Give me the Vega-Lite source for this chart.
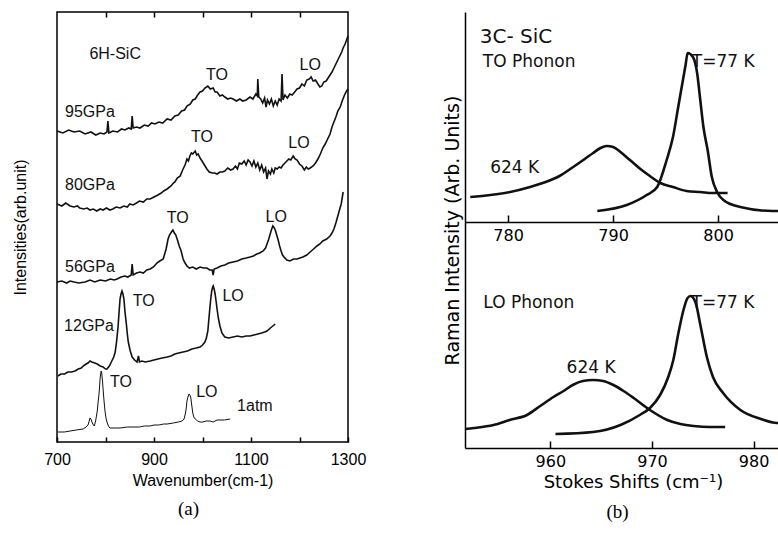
{
"$schema": "https://vega.github.io/schema/vega-lite/v6.json",
"padding": {"left": 11, "top": 10, "right": 0, "bottom": 0},
"spacing": 76,
"config": {
  "font": "Liberation Sans",
  "axis": {"domainColor": "black", "tickColor": "black", "labelColor": "black", "titleColor": "black", "grid": false, "labelFlush": false, "labelOverlap": false, "titleFontWeight": "normal"},
  "title": {"color": "black", "fontWeight": "normal"}
},
"datasets": {
  "specA": [
    {"s":"95GPa","w":700,"v":313},{"s":"95GPa","w":712,"v":311},{"s":"95GPa","w":724,"v":314},{"s":"95GPa","w":735,"v":312},{"s":"95GPa","w":747,"v":313},{"s":"95GPa","w":758,"v":310},{"s":"95GPa","w":770,"v":312},{"s":"95GPa","w":780,"v":309},{"s":"95GPa","w":789,"v":311},{"s":"95GPa","w":797,"v":310},{"s":"95GPa","w":803,"v":312},{"s":"95GPa","w":805,"v":323},{"s":"95GPa","w":807,"v":311},{"s":"95GPa","w":815,"v":313},{"s":"95GPa","w":825,"v":312},{"s":"95GPa","w":833,"v":315},{"s":"95GPa","w":840,"v":314},{"s":"95GPa","w":848,"v":316},{"s":"95GPa","w":853,"v":315},{"s":"95GPa","w":855,"v":328},{"s":"95GPa","w":857,"v":316},{"s":"95GPa","w":864,"v":317},{"s":"95GPa","w":871,"v":316},{"s":"95GPa","w":880,"v":319},{"s":"95GPa","w":888,"v":318},{"s":"95GPa","w":895,"v":321},{"s":"95GPa","w":902,"v":320},{"s":"95GPa","w":910,"v":322},{"s":"95GPa","w":918,"v":321},{"s":"95GPa","w":927,"v":325},{"s":"95GPa","w":935,"v":324},{"s":"95GPa","w":943,"v":328},{"s":"95GPa","w":950,"v":329},{"s":"95GPa","w":957,"v":333},{"s":"95GPa","w":963,"v":334},{"s":"95GPa","w":968,"v":338},{"s":"95GPa","w":975,"v":340},{"s":"95GPa","w":980,"v":344},{"s":"95GPa","w":985,"v":345},{"s":"95GPa","w":990,"v":349},{"s":"95GPa","w":995,"v":352},{"s":"95GPa","w":1000,"v":353},{"s":"95GPa","w":1005,"v":356},{"s":"95GPa","w":1011,"v":358},{"s":"95GPa","w":1016,"v":355},{"s":"95GPa","w":1022,"v":356},{"s":"95GPa","w":1026,"v":352},{"s":"95GPa","w":1030,"v":352},{"s":"95GPa","w":1036,"v":348},{"s":"95GPa","w":1041,"v":349},{"s":"95GPa","w":1046,"v":347},{"s":"95GPa","w":1052,"v":345},{"s":"95GPa","w":1058,"v":346},{"s":"95GPa","w":1063,"v":345},{"s":"95GPa","w":1070,"v":343},{"s":"95GPa","w":1077,"v":345},{"s":"95GPa","w":1083,"v":343},{"s":"95GPa","w":1090,"v":344},{"s":"95GPa","w":1098,"v":347},{"s":"95GPa","w":1104,"v":345},{"s":"95GPa","w":1110,"v":350},{"s":"95GPa","w":1113,"v":348},{"s":"95GPa","w":1114,"v":365},{"s":"95GPa","w":1116,"v":347},{"s":"95GPa","w":1120,"v":345},{"s":"95GPa","w":1124,"v":341},{"s":"95GPa","w":1128,"v":346},{"s":"95GPa","w":1131,"v":337},{"s":"95GPa","w":1134,"v":344},{"s":"95GPa","w":1138,"v":340},{"s":"95GPa","w":1142,"v":345},{"s":"95GPa","w":1146,"v":338},{"s":"95GPa","w":1150,"v":343},{"s":"95GPa","w":1154,"v":339},{"s":"95GPa","w":1158,"v":345},{"s":"95GPa","w":1162,"v":343},{"s":"95GPa","w":1164,"v":370},{"s":"95GPa","w":1166,"v":344},{"s":"95GPa","w":1170,"v":349},{"s":"95GPa","w":1175,"v":346},{"s":"95GPa","w":1180,"v":350},{"s":"95GPa","w":1185,"v":349},{"s":"95GPa","w":1190,"v":352},{"s":"95GPa","w":1195,"v":355},{"s":"95GPa","w":1200,"v":356},{"s":"95GPa","w":1205,"v":360},{"s":"95GPa","w":1210,"v":358},{"s":"95GPa","w":1215,"v":364},{"s":"95GPa","w":1220,"v":365},{"s":"95GPa","w":1224,"v":367},{"s":"95GPa","w":1228,"v":363},{"s":"95GPa","w":1233,"v":364},{"s":"95GPa","w":1238,"v":360},{"s":"95GPa","w":1242,"v":357},{"s":"95GPa","w":1246,"v":358},{"s":"95GPa","w":1250,"v":362},{"s":"95GPa","w":1255,"v":363},{"s":"95GPa","w":1259,"v":366},{"s":"95GPa","w":1263,"v":369},{"s":"95GPa","w":1267,"v":372},{"s":"95GPa","w":1271,"v":376},{"s":"95GPa","w":1275,"v":380},{"s":"95GPa","w":1279,"v":384},{"s":"95GPa","w":1283,"v":388},{"s":"95GPa","w":1287,"v":392},{"s":"95GPa","w":1290,"v":396},{"s":"95GPa","w":1294,"v":400},{"s":"95GPa","w":1297,"v":404},{"s":"95GPa","w":1300,"v":408},
    {"s":"80GPa","w":700,"v":240},{"s":"80GPa","w":710,"v":238},{"s":"80GPa","w":718,"v":241},{"s":"80GPa","w":727,"v":238},{"s":"80GPa","w":735,"v":237},{"s":"80GPa","w":742,"v":238},{"s":"80GPa","w":747,"v":236},{"s":"80GPa","w":755,"v":235},{"s":"80GPa","w":762,"v":236},{"s":"80GPa","w":768,"v":234},{"s":"80GPa","w":775,"v":235},{"s":"80GPa","w":782,"v":233},{"s":"80GPa","w":789,"v":235},{"s":"80GPa","w":795,"v":234},{"s":"80GPa","w":802,"v":236},{"s":"80GPa","w":809,"v":234},{"s":"80GPa","w":815,"v":235},{"s":"80GPa","w":822,"v":237},{"s":"80GPa","w":830,"v":236},{"s":"80GPa","w":838,"v":238},{"s":"80GPa","w":845,"v":237},{"s":"80GPa","w":850,"v":240},{"s":"80GPa","w":857,"v":239},{"s":"80GPa","w":864,"v":241},{"s":"80GPa","w":870,"v":243},{"s":"80GPa","w":878,"v":242},{"s":"80GPa","w":885,"v":245},{"s":"80GPa","w":892,"v":245},{"s":"80GPa","w":900,"v":247},{"s":"80GPa","w":908,"v":249},{"s":"80GPa","w":915,"v":251},{"s":"80GPa","w":920,"v":253},{"s":"80GPa","w":927,"v":255},{"s":"80GPa","w":935,"v":258},{"s":"80GPa","w":940,"v":261},{"s":"80GPa","w":943,"v":262},{"s":"80GPa","w":948,"v":266},{"s":"80GPa","w":954,"v":268},{"s":"80GPa","w":959,"v":274},{"s":"80GPa","w":964,"v":279},{"s":"80GPa","w":968,"v":285},{"s":"80GPa","w":971,"v":283},{"s":"80GPa","w":974,"v":288},{"s":"80GPa","w":977,"v":291},{"s":"80GPa","w":980,"v":290},{"s":"80GPa","w":985,"v":293},{"s":"80GPa","w":988,"v":289},{"s":"80GPa","w":991,"v":290},{"s":"80GPa","w":995,"v":286},{"s":"80GPa","w":999,"v":283},{"s":"80GPa","w":1004,"v":279},{"s":"80GPa","w":1009,"v":275},{"s":"80GPa","w":1014,"v":272},{"s":"80GPa","w":1020,"v":271},{"s":"80GPa","w":1025,"v":271},{"s":"80GPa","w":1030,"v":270},{"s":"80GPa","w":1036,"v":272},{"s":"80GPa","w":1041,"v":272},{"s":"80GPa","w":1046,"v":273},{"s":"80GPa","w":1052,"v":276},{"s":"80GPa","w":1058,"v":274},{"s":"80GPa","w":1063,"v":275},{"s":"80GPa","w":1068,"v":278},{"s":"80GPa","w":1072,"v":275},{"s":"80GPa","w":1076,"v":281},{"s":"80GPa","w":1081,"v":280},{"s":"80GPa","w":1086,"v":283},{"s":"80GPa","w":1090,"v":279},{"s":"80GPa","w":1094,"v":284},{"s":"80GPa","w":1098,"v":282},{"s":"80GPa","w":1102,"v":278},{"s":"80GPa","w":1106,"v":283},{"s":"80GPa","w":1110,"v":277},{"s":"80GPa","w":1114,"v":281},{"s":"80GPa","w":1118,"v":274},{"s":"80GPa","w":1122,"v":279},{"s":"80GPa","w":1126,"v":272},{"s":"80GPa","w":1130,"v":276},{"s":"80GPa","w":1133,"v":265},{"s":"80GPa","w":1136,"v":273},{"s":"80GPa","w":1140,"v":270},{"s":"80GPa","w":1143,"v":275},{"s":"80GPa","w":1147,"v":271},{"s":"80GPa","w":1150,"v":276},{"s":"80GPa","w":1154,"v":275},{"s":"80GPa","w":1158,"v":277},{"s":"80GPa","w":1162,"v":276},{"s":"80GPa","w":1166,"v":279},{"s":"80GPa","w":1170,"v":281},{"s":"80GPa","w":1174,"v":283},{"s":"80GPa","w":1178,"v":285},{"s":"80GPa","w":1182,"v":284},{"s":"80GPa","w":1187,"v":288},{"s":"80GPa","w":1191,"v":285},{"s":"80GPa","w":1195,"v":284},{"s":"80GPa","w":1200,"v":280},{"s":"80GPa","w":1205,"v":278},{"s":"80GPa","w":1210,"v":274},{"s":"80GPa","w":1214,"v":277},{"s":"80GPa","w":1218,"v":275},{"s":"80GPa","w":1222,"v":276},{"s":"80GPa","w":1228,"v":278},{"s":"80GPa","w":1233,"v":281},{"s":"80GPa","w":1238,"v":285},{"s":"80GPa","w":1243,"v":290},{"s":"80GPa","w":1248,"v":296},{"s":"80GPa","w":1253,"v":300},{"s":"80GPa","w":1258,"v":305},{"s":"80GPa","w":1263,"v":310},{"s":"80GPa","w":1267,"v":317},{"s":"80GPa","w":1271,"v":322},{"s":"80GPa","w":1275,"v":327},{"s":"80GPa","w":1279,"v":333},{"s":"80GPa","w":1284,"v":337},{"s":"80GPa","w":1288,"v":343},{"s":"80GPa","w":1292,"v":348},{"s":"80GPa","w":1296,"v":352},{"s":"80GPa","w":1300,"v":355},
    {"s":"56GPa","w":700,"v":162},{"s":"56GPa","w":710,"v":163},{"s":"56GPa","w":720,"v":161},{"s":"56GPa","w":727,"v":163},{"s":"56GPa","w":735,"v":162},{"s":"56GPa","w":745,"v":161},{"s":"56GPa","w":758,"v":162},{"s":"56GPa","w":768,"v":164},{"s":"56GPa","w":778,"v":162},{"s":"56GPa","w":789,"v":164},{"s":"56GPa","w":800,"v":163},{"s":"56GPa","w":810,"v":165},{"s":"56GPa","w":818,"v":164},{"s":"56GPa","w":824,"v":165},{"s":"56GPa","w":832,"v":167},{"s":"56GPa","w":840,"v":168},{"s":"56GPa","w":846,"v":167},{"s":"56GPa","w":853,"v":169},{"s":"56GPa","w":855,"v":180},{"s":"56GPa","w":857,"v":169},{"s":"56GPa","w":864,"v":171},{"s":"56GPa","w":871,"v":172},{"s":"56GPa","w":878,"v":171},{"s":"56GPa","w":885,"v":174},{"s":"56GPa","w":892,"v":175},{"s":"56GPa","w":899,"v":177},{"s":"56GPa","w":906,"v":181},{"s":"56GPa","w":912,"v":183},{"s":"56GPa","w":919,"v":185},{"s":"56GPa","w":922,"v":190},{"s":"56GPa","w":925,"v":195},{"s":"56GPa","w":927,"v":200},{"s":"56GPa","w":929,"v":205},{"s":"56GPa","w":932,"v":209},{"s":"56GPa","w":936,"v":212},{"s":"56GPa","w":939,"v":214},{"s":"56GPa","w":942,"v":211},{"s":"56GPa","w":945,"v":209},{"s":"56GPa","w":949,"v":203},{"s":"56GPa","w":952,"v":198},{"s":"56GPa","w":956,"v":193},{"s":"56GPa","w":960,"v":185},{"s":"56GPa","w":964,"v":181},{"s":"56GPa","w":968,"v":178},{"s":"56GPa","w":973,"v":176},{"s":"56GPa","w":980,"v":177},{"s":"56GPa","w":987,"v":175},{"s":"56GPa","w":995,"v":177},{"s":"56GPa","w":1002,"v":176},{"s":"56GPa","w":1009,"v":176},{"s":"56GPa","w":1015,"v":174},{"s":"56GPa","w":1020,"v":174},{"s":"56GPa","w":1022,"v":169},{"s":"56GPa","w":1024,"v":175},{"s":"56GPa","w":1030,"v":176},{"s":"56GPa","w":1038,"v":178},{"s":"56GPa","w":1046,"v":179},{"s":"56GPa","w":1054,"v":181},{"s":"56GPa","w":1063,"v":182},{"s":"56GPa","w":1072,"v":183},{"s":"56GPa","w":1081,"v":185},{"s":"56GPa","w":1090,"v":186},{"s":"56GPa","w":1098,"v":187},{"s":"56GPa","w":1105,"v":188},{"s":"56GPa","w":1112,"v":190},{"s":"56GPa","w":1118,"v":191},{"s":"56GPa","w":1125,"v":193},{"s":"56GPa","w":1130,"v":196},{"s":"56GPa","w":1133,"v":200},{"s":"56GPa","w":1136,"v":204},{"s":"56GPa","w":1139,"v":209},{"s":"56GPa","w":1142,"v":214},{"s":"56GPa","w":1145,"v":218},{"s":"56GPa","w":1148,"v":216},{"s":"56GPa","w":1150,"v":214},{"s":"56GPa","w":1153,"v":209},{"s":"56GPa","w":1156,"v":204},{"s":"56GPa","w":1159,"v":198},{"s":"56GPa","w":1162,"v":193},{"s":"56GPa","w":1165,"v":189},{"s":"56GPa","w":1168,"v":187},{"s":"56GPa","w":1174,"v":184},{"s":"56GPa","w":1180,"v":183},{"s":"56GPa","w":1188,"v":185},{"s":"56GPa","w":1195,"v":185},{"s":"56GPa","w":1201,"v":186},{"s":"56GPa","w":1207,"v":187},{"s":"56GPa","w":1215,"v":189},{"s":"56GPa","w":1222,"v":192},{"s":"56GPa","w":1229,"v":195},{"s":"56GPa","w":1236,"v":198},{"s":"56GPa","w":1242,"v":200},{"s":"56GPa","w":1248,"v":203},{"s":"56GPa","w":1256,"v":205},{"s":"56GPa","w":1263,"v":208},{"s":"56GPa","w":1267,"v":211},{"s":"56GPa","w":1271,"v":215},{"s":"56GPa","w":1275,"v":221},{"s":"56GPa","w":1279,"v":228},{"s":"56GPa","w":1283,"v":235},{"s":"56GPa","w":1286,"v":240},{"s":"56GPa","w":1290,"v":252},
    {"s":"12GPa","w":702,"v":68},{"s":"12GPa","w":708,"v":70},{"s":"12GPa","w":716,"v":70},{"s":"12GPa","w":722,"v":72},{"s":"12GPa","w":730,"v":72},{"s":"12GPa","w":737,"v":73},{"s":"12GPa","w":744,"v":75},{"s":"12GPa","w":750,"v":76},{"s":"12GPa","w":754,"v":78},{"s":"12GPa","w":760,"v":80},{"s":"12GPa","w":764,"v":81},{"s":"12GPa","w":768,"v":83},{"s":"12GPa","w":772,"v":82},{"s":"12GPa","w":778,"v":81},{"s":"12GPa","w":783,"v":80},{"s":"12GPa","w":789,"v":78},{"s":"12GPa","w":795,"v":77},{"s":"12GPa","w":800,"v":75},{"s":"12GPa","w":803,"v":75},{"s":"12GPa","w":808,"v":78},{"s":"12GPa","w":813,"v":83},{"s":"12GPa","w":817,"v":87},{"s":"12GPa","w":820,"v":92},{"s":"12GPa","w":823,"v":103},{"s":"12GPa","w":826,"v":118},{"s":"12GPa","w":828,"v":132},{"s":"12GPa","w":830,"v":145},{"s":"12GPa","w":832,"v":150},{"s":"12GPa","w":834,"v":153},{"s":"12GPa","w":836,"v":150},{"s":"12GPa","w":838,"v":145},{"s":"12GPa","w":840,"v":133},{"s":"12GPa","w":843,"v":120},{"s":"12GPa","w":845,"v":110},{"s":"12GPa","w":847,"v":102},{"s":"12GPa","w":851,"v":93},{"s":"12GPa","w":855,"v":87},{"s":"12GPa","w":860,"v":84},{"s":"12GPa","w":865,"v":82},{"s":"12GPa","w":868,"v":88},{"s":"12GPa","w":870,"v":82},{"s":"12GPa","w":875,"v":83},{"s":"12GPa","w":882,"v":82},{"s":"12GPa","w":892,"v":83},{"s":"12GPa","w":900,"v":84},{"s":"12GPa","w":908,"v":85},{"s":"12GPa","w":917,"v":86},{"s":"12GPa","w":927,"v":87},{"s":"12GPa","w":935,"v":88},{"s":"12GPa","w":943,"v":90},{"s":"12GPa","w":951,"v":91},{"s":"12GPa","w":960,"v":92},{"s":"12GPa","w":969,"v":93},{"s":"12GPa","w":978,"v":95},{"s":"12GPa","w":987,"v":96},{"s":"12GPa","w":995,"v":97},{"s":"12GPa","w":1000,"v":99},{"s":"12GPa","w":1005,"v":102},{"s":"12GPa","w":1008,"v":106},{"s":"12GPa","w":1011,"v":113},{"s":"12GPa","w":1013,"v":124},{"s":"12GPa","w":1015,"v":135},{"s":"12GPa","w":1017,"v":145},{"s":"12GPa","w":1019,"v":153},{"s":"12GPa","w":1021,"v":157},{"s":"12GPa","w":1022,"v":158},{"s":"12GPa","w":1024,"v":155},{"s":"12GPa","w":1026,"v":150},{"s":"12GPa","w":1028,"v":143},{"s":"12GPa","w":1030,"v":135},{"s":"12GPa","w":1033,"v":125},{"s":"12GPa","w":1036,"v":118},{"s":"12GPa","w":1040,"v":111},{"s":"12GPa","w":1046,"v":107},{"s":"12GPa","w":1054,"v":106},{"s":"12GPa","w":1063,"v":107},{"s":"12GPa","w":1072,"v":108},{"s":"12GPa","w":1081,"v":107},{"s":"12GPa","w":1090,"v":108},{"s":"12GPa","w":1098,"v":108},{"s":"12GPa","w":1106,"v":109},{"s":"12GPa","w":1114,"v":110},{"s":"12GPa","w":1122,"v":111},{"s":"12GPa","w":1128,"v":112},{"s":"12GPa","w":1133,"v":113},{"s":"12GPa","w":1140,"v":116},{"s":"12GPa","w":1145,"v":118},{"s":"12GPa","w":1150,"v":120},
    {"s":"1atm","w":702,"v":12},{"s":"1atm","w":715,"v":12},{"s":"1atm","w":727,"v":13},{"s":"1atm","w":740,"v":14},{"s":"1atm","w":754,"v":15},{"s":"1atm","w":760,"v":17},{"s":"1atm","w":764,"v":19},{"s":"1atm","w":767,"v":24},{"s":"1atm","w":768,"v":26},{"s":"1atm","w":770,"v":25},{"s":"1atm","w":772,"v":22},{"s":"1atm","w":775,"v":19},{"s":"1atm","w":777,"v":18},{"s":"1atm","w":780,"v":24},{"s":"1atm","w":783,"v":33},{"s":"1atm","w":785,"v":43},{"s":"1atm","w":787,"v":52},{"s":"1atm","w":789,"v":66},{"s":"1atm","w":791,"v":73},{"s":"1atm","w":792,"v":72},{"s":"1atm","w":794,"v":62},{"s":"1atm","w":795,"v":55},{"s":"1atm","w":797,"v":43},{"s":"1atm","w":799,"v":33},{"s":"1atm","w":801,"v":26},{"s":"1atm","w":803,"v":22},{"s":"1atm","w":806,"v":18},{"s":"1atm","w":809,"v":16},{"s":"1atm","w":820,"v":16},{"s":"1atm","w":830,"v":16},{"s":"1atm","w":845,"v":17},{"s":"1atm","w":857,"v":17},{"s":"1atm","w":870,"v":17},{"s":"1atm","w":880,"v":18},{"s":"1atm","w":892,"v":18},{"s":"1atm","w":900,"v":19},{"s":"1atm","w":910,"v":19},{"s":"1atm","w":920,"v":20},{"s":"1atm","w":927,"v":20},{"s":"1atm","w":940,"v":21},{"s":"1atm","w":950,"v":22},{"s":"1atm","w":958,"v":23},{"s":"1atm","w":962,"v":25},{"s":"1atm","w":964,"v":29},{"s":"1atm","w":966,"v":34},{"s":"1atm","w":968,"v":43},{"s":"1atm","w":970,"v":47},{"s":"1atm","w":972,"v":50},{"s":"1atm","w":974,"v":49},{"s":"1atm","w":976,"v":46},{"s":"1atm","w":978,"v":38},{"s":"1atm","w":980,"v":31},{"s":"1atm","w":982,"v":27},{"s":"1atm","w":985,"v":25},{"s":"1atm","w":990,"v":23},{"s":"1atm","w":995,"v":22},{"s":"1atm","w":1000,"v":22},{"s":"1atm","w":1008,"v":23},{"s":"1atm","w":1015,"v":23},{"s":"1atm","w":1022,"v":22},{"s":"1atm","w":1030,"v":24},{"s":"1atm","w":1036,"v":24},{"s":"1atm","w":1045,"v":24},{"s":"1atm","w":1057,"v":25}
  ],
  "labelsA": [
    {"t":"6H-SiC","w":820,"v":390},
    {"t":"TO","w":1030,"v":369},{"t":"LO","w":1222,"v":379},{"t":"95GPa","w":768,"v":332},
    {"t":"TO","w":999,"v":307},{"t":"LO","w":1199,"v":301},{"t":"80GPa","w":768,"v":259},
    {"t":"TO","w":949,"v":226},{"t":"LO","w":1152,"v":227},{"t":"56GPa","w":768,"v":177},
    {"t":"TO","w":879,"v":143},{"t":"LO","w":1063,"v":148},{"t":"12GPa","w":766,"v":118},
    {"t":"TO","w":832,"v":62},{"t":"LO","w":1009,"v":52},{"t":"1atm","w":1108,"v":38}
  ],
  "toB": [
    {"c":"624 K","w":776.4,"v":251},{"c":"624 K","w":778.3,"v":253},{"c":"624 K","w":780.2,"v":256},{"c":"624 K","w":782.1,"v":261},{"c":"624 K","w":783.3,"v":265},{"c":"624 K","w":784.9,"v":272},{"c":"624 K","w":786.2,"v":281},{"c":"624 K","w":787.3,"v":289},{"c":"624 K","w":788.1,"v":295},{"c":"624 K","w":788.8,"v":300},{"c":"624 K","w":789.4,"v":302},{"c":"624 K","w":790.0,"v":301},{"c":"624 K","w":790.7,"v":296},{"c":"624 K","w":791.6,"v":288},{"c":"624 K","w":792.6,"v":279},{"c":"624 K","w":793.5,"v":272},{"c":"624 K","w":794.5,"v":265},{"c":"624 K","w":795.7,"v":261},{"c":"624 K","w":797.0,"v":257},{"c":"624 K","w":798.3,"v":256},{"c":"624 K","w":799.5,"v":255},{"c":"624 K","w":800.9,"v":255},
    {"c":"77 K","w":788.5,"v":237},{"c":"77 K","w":791.3,"v":243},{"c":"77 K","w":793.2,"v":253},{"c":"77 K","w":794.2,"v":261},{"c":"77 K","w":795.1,"v":288},{"c":"77 K","w":795.7,"v":311},{"c":"77 K","w":796.2,"v":341},{"c":"77 K","w":796.6,"v":365},{"c":"77 K","w":796.9,"v":383},{"c":"77 K","w":797.1,"v":395},{"c":"77 K","w":797.6,"v":391},{"c":"77 K","w":798.0,"v":375},{"c":"77 K","w":798.3,"v":348},{"c":"77 K","w":798.6,"v":321},{"c":"77 K","w":799.0,"v":298},{"c":"77 K","w":799.4,"v":271},{"c":"77 K","w":799.9,"v":256},{"c":"77 K","w":800.5,"v":248},{"c":"77 K","w":802.1,"v":241},{"c":"77 K","w":805.2,"v":237},{"c":"77 K","w":805.7,"v":237}
  ],
  "toLabels": [
    {"t":"3C- SiC","w":777.3,"v":411},{"t":"TO  Phonon","w":777.6,"v":386},{"t":"T=77 K","w":797.5,"v":386},{"t":"624 K","w":778.3,"v":280}
  ],
  "loB": [
    {"c":"624 K","w":951.6,"v":19},{"c":"624 K","w":952.5,"v":20},{"c":"624 K","w":954.4,"v":23},{"c":"624 K","w":956.0,"v":28},{"c":"624 K","w":957.7,"v":33},{"c":"624 K","w":959.0,"v":42},{"c":"624 K","w":960.3,"v":51},{"c":"624 K","w":961.3,"v":57},{"c":"624 K","w":962.2,"v":63},{"c":"624 K","w":963.2,"v":67},{"c":"624 K","w":964.2,"v":68},{"c":"624 K","w":965.2,"v":67},{"c":"624 K","w":966.2,"v":63},{"c":"624 K","w":967.2,"v":57},{"c":"624 K","w":968.2,"v":50},{"c":"624 K","w":969.8,"v":38},{"c":"624 K","w":971.5,"v":28},{"c":"624 K","w":972.8,"v":24},{"c":"624 K","w":974.1,"v":22},{"c":"624 K","w":975.7,"v":21},{"c":"624 K","w":977.2,"v":21},
    {"c":"77 K","w":960.5,"v":14},{"c":"77 K","w":964.2,"v":16},{"c":"77 K","w":966.9,"v":23},{"c":"77 K","w":968.8,"v":33},{"c":"77 K","w":969.8,"v":40},{"c":"77 K","w":970.8,"v":53},{"c":"77 K","w":971.6,"v":71},{"c":"77 K","w":972.1,"v":88},{"c":"77 K","w":972.6,"v":115},{"c":"77 K","w":973.1,"v":138},{"c":"77 K","w":973.5,"v":150},{"c":"77 K","w":973.8,"v":152},{"c":"77 K","w":974.3,"v":145},{"c":"77 K","w":974.8,"v":121},{"c":"77 K","w":975.4,"v":91},{"c":"77 K","w":976.0,"v":71},{"c":"77 K","w":977.0,"v":55},{"c":"77 K","w":978.7,"v":38},{"c":"77 K","w":980.7,"v":29},{"c":"77 K","w":982.3,"v":25},{"c":"77 K","w":982.4,"v":25}
  ],
  "loLabels": [
    {"t":"LO  Phonon","w":953.4,"v":145},{"t":"T=77 K","w":973.9,"v":145},{"t":"624 K","w":961.6,"v":80}
  ]
},
"hconcat": [
  {
    "width": 291, "height": 430,
    "view": {"stroke": "black", "strokeWidth": 1.5},
    "title": {"text": "(a)", "orient": "bottom", "font": "Liberation Serif", "fontSize": 19, "dx": -14, "offset": 12},
    "layer": [
      {
        "data": {"name": "specA"},
        "mark": {"type": "line", "color": "#111", "interpolate": "linear"},
        "encoding": {
          "x": {"field": "w", "type": "quantitative", "scale": {"domain": [700, 1300], "nice": false, "zero": false},
                "axis": {"orient": "bottom", "values": [700, 800, 900, 1000, 1100, 1200, 1300], "format": "d", "labelExpr": "datum.value % 200 == 100 ? datum.label : ''", "tickSize": -5, "tickWidth": 1.5, "domain": false, "labelFontSize": 16, "labelPadding": 14, "title": "Wavenumber(cm-1)", "titleFontSize": 16, "titlePadding": 5}},
          "y": {"field": "v", "type": "quantitative", "scale": {"domain": [2, 432], "nice": false, "zero": false},
                "axis": {"title": "Intensities(arb.unit)", "ticks": false, "labels": false, "domain": false, "titleFontSize": 16, "titlePadding": 29}},
          "detail": {"field": "s"},
          "strokeWidth": {"condition": {"test": "datum.s == '1atm'", "value": 1}, "value": 1.6}
        }
      },
      {
        "data": {"name": "labelsA"},
        "mark": {"type": "text", "fontSize": 16, "color": "#111", "align": "center", "baseline": "middle"},
        "encoding": {
          "x": {"field": "w", "type": "quantitative", "scale": {"domain": [700, 1300], "nice": false, "zero": false},
                "axis": {"orient": "top", "values": [800, 900, 1000, 1100, 1200], "labels": false, "tickSize": -5, "tickWidth": 1.5, "domain": false, "title": null}},
          "y": {"field": "v", "type": "quantitative", "scale": {"domain": [2, 432], "nice": false, "zero": false},
                "axis": {"title": "Intensities(arb.unit)", "ticks": false, "labels": false, "domain": false, "titleFontSize": 16, "titlePadding": 29}},
          "text": {"field": "t"}
        }
      }
    ],
    "resolve": {"axis": {"x": "independent"}}
  },
  {
    "width": 313, "height": 436,
    "view": {"stroke": null},
    "title": {"text": "(b)", "orient": "bottom", "font": "Liberation Serif", "fontSize": 19, "dx": -4, "offset": 12},
    "layer": [
      {
        "layer": [
          {
            "data": {"name": "toB"},
            "mark": {"type": "line", "color": "#111", "strokeWidth": 2.6, "interpolate": "monotone"},
            "encoding": {
              "x": {"field": "w", "type": "quantitative", "scale": {"domain": [775.9, 805.7], "nice": false, "zero": false},
                    "axis": {"orient": "bottom", "offset": -226, "values": [780, 790, 800], "format": "d", "tickSize": -7, "tickWidth": 1.5, "domainWidth": 1.5, "labelFont": "DejaVu Sans", "labelFontSize": 16, "labelPadding": 12, "title": null}},
              "y": {"field": "v", "type": "quantitative", "scale": {"domain": [0, 436], "nice": false, "zero": false},
                    "axis": {"title": "Raman Intensity (Arb. Units)", "ticks": false, "labels": false, "domain": true, "domainWidth": 1.5, "titleFont": "DejaVu Sans", "titleFontSize": 19, "titlePadding": 3}},
              "detail": {"field": "c"}
            }
          },
          {
            "data": {"name": "toLabels"},
            "mark": {"type": "text", "font": "DejaVu Sans", "color": "#111", "align": "left", "baseline": "middle"},
            "encoding": {
              "x": {"field": "w", "type": "quantitative", "scale": {"domain": [775.9, 805.7], "nice": false, "zero": false},
                    "axis": {"orient": "bottom", "offset": -226, "values": [780, 790, 800], "format": "d", "tickSize": -7, "tickWidth": 1.5, "domainWidth": 1.5, "labelFont": "DejaVu Sans", "labelFontSize": 16, "labelPadding": 12, "title": null}},
              "y": {"field": "v", "type": "quantitative", "scale": {"domain": [0, 436], "nice": false, "zero": false},
                    "axis": {"title": "Raman Intensity (Arb. Units)", "ticks": false, "labels": false, "domain": true, "domainWidth": 1.5, "titleFont": "DejaVu Sans", "titleFontSize": 19, "titlePadding": 3}},
              "text": {"field": "t"},
              "size": {"condition": {"test": "datum.t == '3C- SiC'", "value": 20}, "value": 17}
            }
          }
        ]
      },
      {
        "layer": [
          {
            "data": {"name": "loB"},
            "mark": {"type": "line", "color": "#111", "strokeWidth": 2.6, "interpolate": "monotone"},
            "encoding": {
              "x": {"field": "w", "type": "quantitative", "scale": {"domain": [951.6, 982.4], "nice": false, "zero": false},
                    "axis": {"orient": "bottom", "values": [960, 970, 980], "format": "d", "tickSize": -7, "tickWidth": 1.5, "domainWidth": 1.5, "labelFont": "DejaVu Sans", "labelFontSize": 16, "labelPadding": 12, "title": "Stokes Shifts (cm⁻¹)", "titleFont": "DejaVu Sans", "titleFontSize": 18, "titlePadding": 4, "titleX": 168}},
              "y": {"field": "v", "type": "quantitative", "scale": {"domain": [0, 436], "nice": false, "zero": false},
                    "axis": {"title": "Raman Intensity (Arb. Units)", "ticks": false, "labels": false, "domain": true, "domainWidth": 1.5, "titleFont": "DejaVu Sans", "titleFontSize": 19, "titlePadding": 3}},
              "detail": {"field": "c"}
            }
          },
          {
            "data": {"name": "loLabels"},
            "mark": {"type": "text", "font": "DejaVu Sans", "fontSize": 17, "color": "#111", "align": "left", "baseline": "middle"},
            "encoding": {
              "x": {"field": "w", "type": "quantitative", "scale": {"domain": [951.6, 982.4], "nice": false, "zero": false},
                    "axis": {"orient": "bottom", "values": [960, 970, 980], "format": "d", "tickSize": -7, "tickWidth": 1.5, "domainWidth": 1.5, "labelFont": "DejaVu Sans", "labelFontSize": 16, "labelPadding": 12, "title": "Stokes Shifts (cm⁻¹)", "titleFont": "DejaVu Sans", "titleFontSize": 18, "titlePadding": 4, "titleX": 168}},
              "y": {"field": "v", "type": "quantitative", "scale": {"domain": [0, 436], "nice": false, "zero": false},
                    "axis": {"title": "Raman Intensity (Arb. Units)", "ticks": false, "labels": false, "domain": true, "domainWidth": 1.5, "titleFont": "DejaVu Sans", "titleFontSize": 19, "titlePadding": 3}},
              "text": {"field": "t"}
            }
          }
        ]
      }
    ],
    "resolve": {"scale": {"x": "independent"}, "axis": {"x": "independent"}}
  }
]
}
